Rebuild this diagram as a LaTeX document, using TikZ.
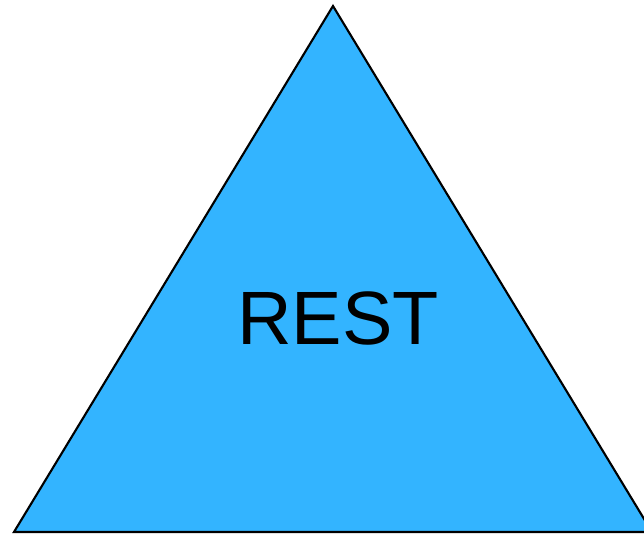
\documentclass[tikz,border=0pt]{standalone}
\usepackage{fontspec}
\setmainfont{Liberation Sans}
\usepackage{xcolor}
\usetikzlibrary{positioning}
\definecolor{RestBlue}{HTML}{33B4FF}

\begin{document}
\begin{tikzpicture}[x=0.01cm,y=-0.01cm,
                    edge/.style={draw=black,line width=0.6pt,line join=miter},
                    label/.style={font=\fontsize{21.5}{24}\selectfont,text=black}]
      \useasboundingbox (0,0) rectangle (644,534);
      \coordinate (top) at (333,6);
      \coordinate (left) at (14,532);
      \coordinate (right) at (652,532);
      \begin{scope}
        \clip (0,0) rectangle (644,534);
        \filldraw[edge,fill=RestBlue] (top) -- (left) -- (right) -- cycle;
      \end{scope}
      \node[label] (rest) at (338,318) {REST};
    \end{tikzpicture}
\end{document}
